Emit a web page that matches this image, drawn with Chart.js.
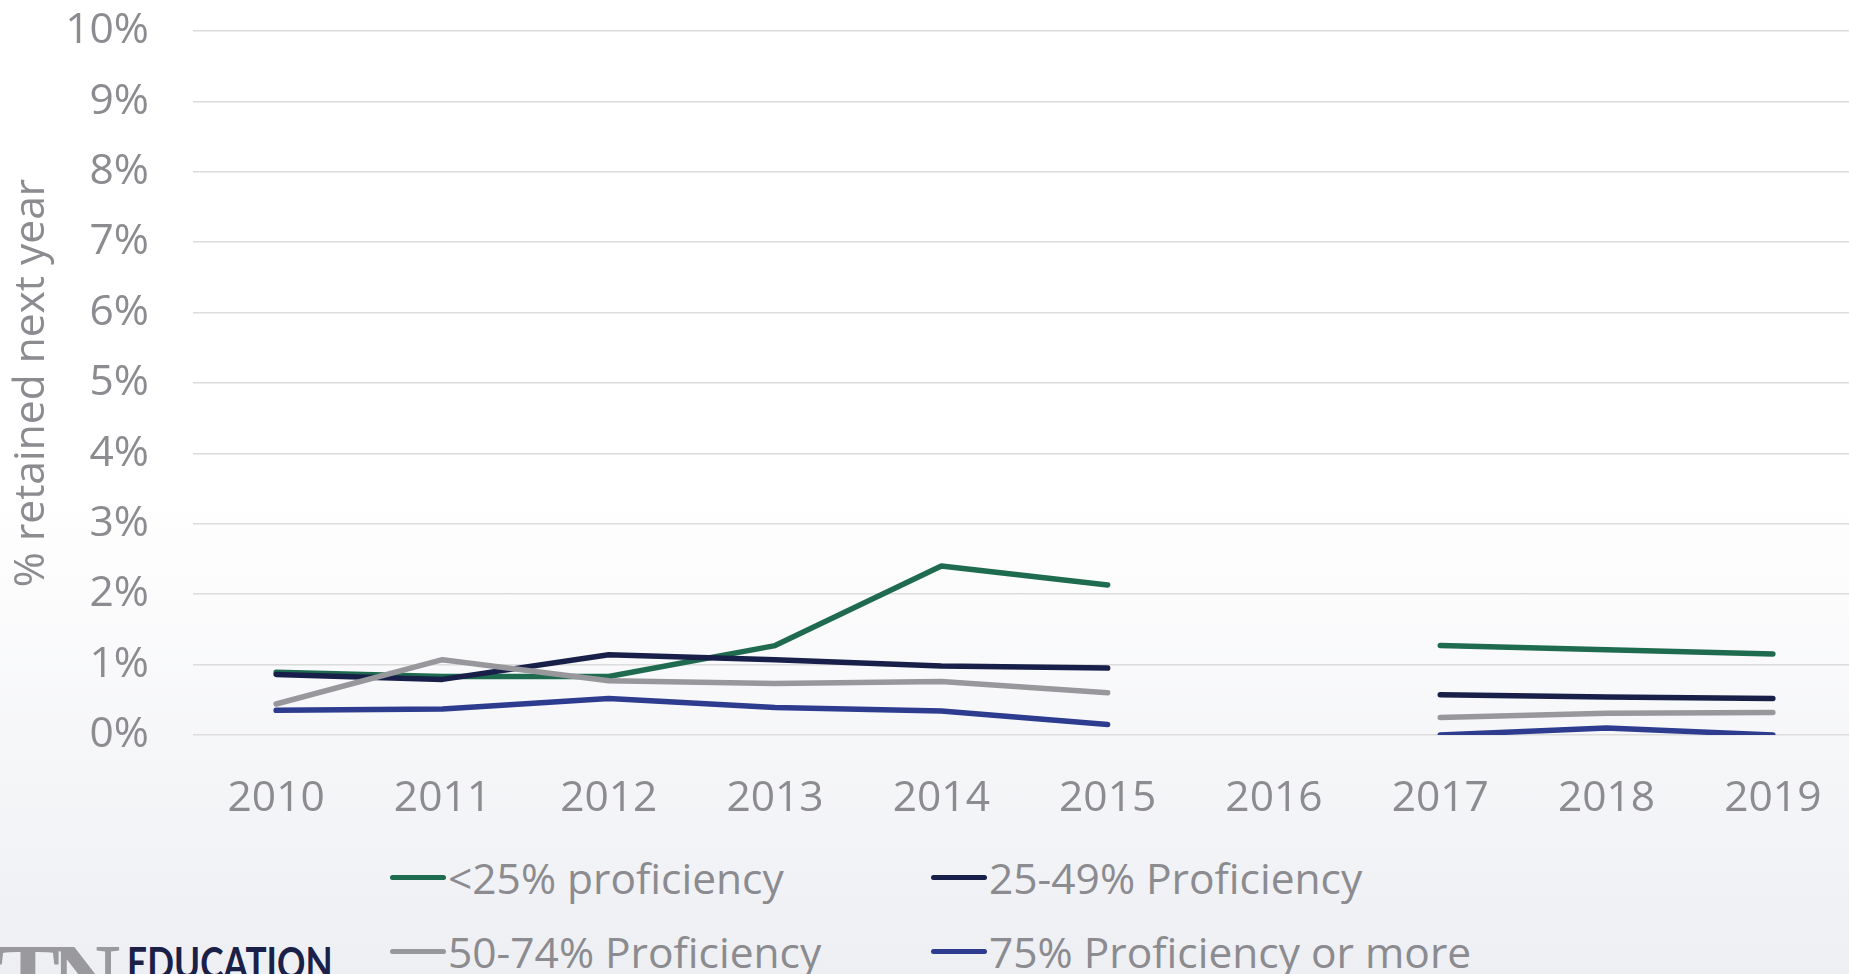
<!DOCTYPE html>
<html>
<head>
<meta charset="utf-8">
<script src="https://cdn.jsdelivr.net/npm/chart.js@4.4.1/dist/chart.umd.min.js"></script>
<style>
  html, body {
    margin: 0;
    padding: 0;
    width: 1849px;
    height: 974px;
    overflow: hidden;
    background: linear-gradient(to bottom, #ffffff 0%, #ffffff 50%, #eeeff3 100%);
    font-family: 'Open Sans', sans-serif;
  }
  #wrap {
    position: absolute;
    left: 0;
    top: 0;
    width: 1856px;
    height: 830px;
  }
  #legend {
    position: absolute;
    left: 390px;
    top: 848px;
    display: grid;
    grid-template-columns: 541px 600px;
    row-gap: 16px;
  }
  .item {
    display: flex;
    align-items: center;
    height: 58px;
    font-size: 42.5px;
    color: #8b8b90;
    white-space: nowrap;
  }
  .swatch {
    width: 56px;
    height: 5px;
    border-radius: 3px;
    margin-right: 2px;
  }
  #logoTN {
    position: absolute;
    left: -4px;
    top: 930px;
    font-family: 'Liberation Serif', serif;
    font-weight: bold;
    font-size: 96px;
    color: #9a9a9e;
    letter-spacing: -9px;
    line-height: 1;
  }
  #logoEd {
    position: absolute;
    left: 127px;
    top: 940px;
    font-family: 'Lato', sans-serif;
    font-weight: bold;
    font-size: 44px;
    color: #1a2048;
    line-height: 1;
    transform-origin: left top;
    transform: scaleX(0.8);
  }
</style>
</head>
<body>
<div id="wrap"><canvas id="retainedCanvas" width="1856" height="830"></canvas></div>
<div id="legend"></div>
<div id="logoTN">TN</div>
<div id="logoEd">EDUCATION</div>
<script>
const years = ['2010', '2011', '2012', '2013', '2014', '2015', '2016', '2017', '2018', '2019'];
const below25 = [0.89, 0.83, 0.83, 1.27, 2.40, 2.13, null, 1.27, 1.21, 1.15];
const from25to49 = [0.86, 0.79, 1.14, 1.07, 0.98, 0.95, null, 0.57, 0.54, 0.52];
const from50to74 = [0.44, 1.07, 0.77, 0.73, 0.76, 0.60, null, 0.25, 0.31, 0.32];
const above75 = [0.35, 0.37, 0.52, 0.39, 0.34, 0.15, null, 0.00, 0.10, 0.00];
const seriesNames = ['<25% proficiency', '25-49% Proficiency', '50-74% Proficiency', '75% Proficiency or more'];
const seriesColors = ['#1f6b50', '#182049', '#98989c', '#2d3c8e'];

const textGrey = '#8b8b90';
const font = { family: "'Open Sans', sans-serif", size: 42.5 };

const makeLine = (i, data) => ({
  label: seriesNames[i],
  data: data,
  borderColor: seriesColors[i],
  backgroundColor: seriesColors[i],
  borderWidth: 5.5,
  borderCapStyle: 'round',
  borderJoinStyle: 'round',
  pointRadius: 0,
  tension: 0,
  spanGaps: false,
  order: 3 - i
});

const chart = new Chart(document.querySelector('#retainedCanvas').getContext('2d'), {
  type: 'line',
  data: {
    labels: years,
    datasets: [
      makeLine(0, below25),
      makeLine(1, from25to49),
      makeLine(2, from50to74),
      makeLine(3, above75)
    ]
  },
  options: {
    responsive: false,
    animation: false,
    layout: {
      padding: { top: 31, right: 0, bottom: 0, left: 0 }
    },
    plugins: {
      legend: { display: false },
      tooltip: { enabled: false }
    },
    scales: {
      y: {
        min: 0,
        max: 10,
        afterFit: (scale) => {
          scale.width = 193;
          scale.paddingTop = 0;
          scale.paddingBottom = 0;
        },
        ticks: {
          stepSize: 1,
          color: textGrey,
          font: font,
          padding: 44,
          callback: (v) => v + '%'
        },
        title: {
          display: true,
          text: '% retained next year',
          color: textGrey,
          font: font,
          padding: { top: 6, bottom: 0 }
        },
        grid: {
          color: '#dcdcdc',
          lineWidth: 1.5,
          drawTicks: false
        },
        border: { display: false }
      },
      x: {
        offset: true,
        afterFit: (scale) => {
          scale.height = 95;
          scale.paddingLeft = 0;
          scale.paddingRight = 0;
        },
        ticks: {
          color: textGrey,
          font: font,
          padding: 38.5,
          maxRotation: 0
        },
        grid: {
          display: false,
          drawTicks: false
        },
        border: { display: false }
      }
    }
  }
});

const legendBox = document.querySelector('#legend');
chart.data.datasets.forEach((ds) => {
  const item = document.createElement('div');
  item.className = 'item';
  const swatch = document.createElement('span');
  swatch.className = 'swatch';
  swatch.style.background = ds.borderColor;
  const label = document.createElement('span');
  label.textContent = ds.label;
  item.appendChild(swatch);
  item.appendChild(label);
  legendBox.appendChild(item);
});
</script>
</body>
</html>
